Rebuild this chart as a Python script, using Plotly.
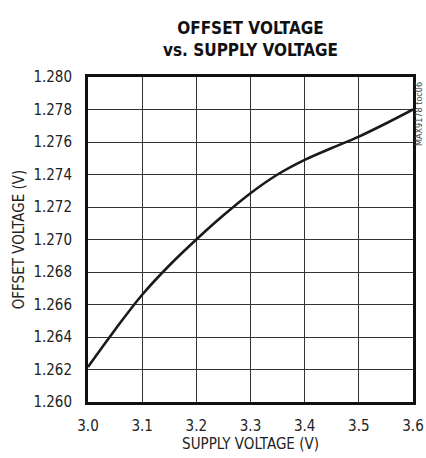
import plotly.graph_objects as go

supply_v = [3.0, 3.05, 3.1, 3.15, 3.2, 3.25, 3.3, 3.35, 3.4, 3.45, 3.5, 3.55, 3.6]
offset_v = [1.26216, 1.26445, 1.2666, 1.2684, 1.2700, 1.27149, 1.27285, 1.2740, 1.27490, 1.27563, 1.27633, 1.27714, 1.2780]

x_ticks = [3.0, 3.1, 3.2, 3.3, 3.4, 3.5, 3.6]
x_tick_labels = ["3.0", "3.1", "3.2", "3.3", "3.4", "3.5", "3.6"]
y_ticks = [1.260, 1.262, 1.264, 1.266, 1.268, 1.270, 1.272, 1.274, 1.276, 1.278, 1.280]
y_tick_labels = ["%.3f" % v for v in y_ticks]

FONT = "DejaVu Sans Condensed, Liberation Sans Narrow, Arial Narrow, sans-serif"

L, R, T, B = 88, 13, 77, 56
W, H = 426, 458
pw, ph = W - L - R, H - T - B

fig = go.Figure()
fig.add_trace(go.Scatter(x=supply_v, y=offset_v, mode="lines",
                         line=dict(color="#1a1a1a", width=2.6, shape="spline", smoothing=1.0),
                         showlegend=False, hoverinfo="skip"))

fig.update_layout(
    width=W, height=H,
    margin=dict(l=L, r=R, t=T, b=B, autoexpand=False),
    paper_bgcolor="white", plot_bgcolor="white",
    font=dict(family=FONT, color="#222", size=15),
    title=dict(text="<b>OFFSET VOLTAGE<br>vs. SUPPLY VOLTAGE</b>",
               x=(L + pw / 2) / W, xanchor="center", y=1 - 34 / H, yanchor="top",
               font=dict(family=FONT, size=17, color="#111")),
)
fig.update_xaxes(range=[3.0, 3.6], tickvals=x_ticks, ticktext=x_tick_labels,
                 showgrid=True, gridcolor="#333", gridwidth=1,
                 showline=True, linecolor="#111", linewidth=3, mirror=True,
                 ticks="", zeroline=False, ticklabelstandoff=8, automargin=False,
                 title=dict(text="SUPPLY VOLTAGE (V)", standoff=4, font=dict(size=15)))
fig.update_yaxes(range=[1.260, 1.280], tickvals=y_ticks, ticktext=y_tick_labels,
                 showgrid=True, gridcolor="#333", gridwidth=1,
                 showline=True, linecolor="#111", linewidth=3, mirror=True,
                 ticks="", zeroline=False, ticklabelstandoff=10, automargin=False,
                 title=dict(text="OFFSET VOLTAGE (V)", standoff=6, font=dict(size=15)))

fig.add_annotation(text="MAX9178 toc06", xref="paper", yref="paper",
                   x=(419 - L) / pw, y=(H - B - 114) / ph, xanchor="center", yanchor="middle",
                   textangle=-90, showarrow=False,
                   font=dict(family=FONT, size=9, color="#444"))

fig.write_html("out.html", config={"displayModeBar": False},
               post_script="document.body.style.margin='0';document.body.style.overflow='hidden';")
